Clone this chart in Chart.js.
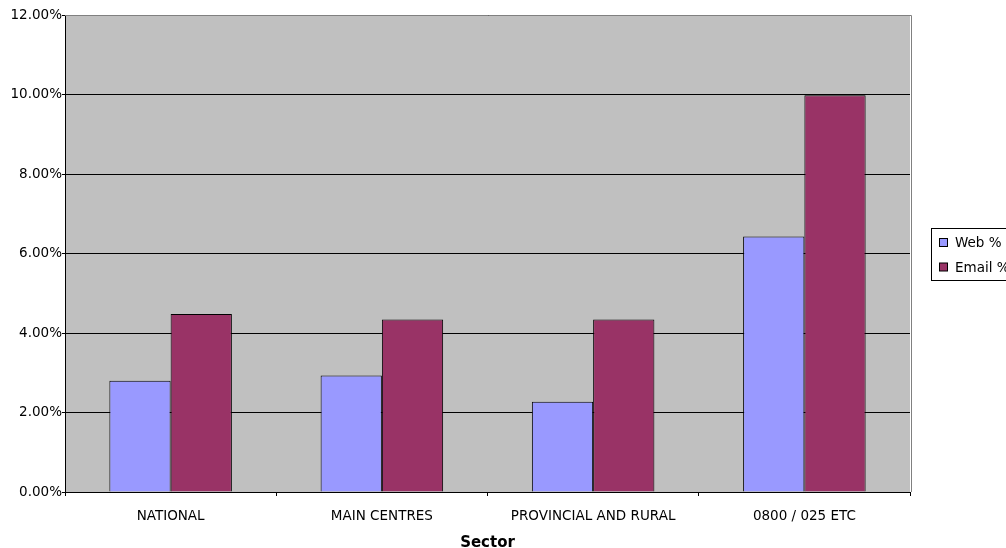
<!DOCTYPE html>
<html>
<head>
<meta charset="utf-8">
<script src="https://cdn.jsdelivr.net/npm/chart.js@4/dist/chart.umd.min.js"></script>
<style>
  html,body{margin:0;padding:0;background:#fff;overflow:hidden;}
  #wrap{width:1006px;height:548px;position:relative;}
</style>
</head>
<body>
<div id="wrap"><canvas id="c" width="1006" height="548"></canvas></div>
<script>
const categories = ["NATIONAL", "MAIN CENTRES", "PROVINCIAL AND RURAL", "0800 / 025 ETC"];
const webValues = [2.80, 2.93, 2.27, 6.43];
const emailValues = [4.48, 4.34, 4.34, 9.98];
const seriesNames = ["Web %", "Email %"];
const yTicks = [0, 2, 4, 6, 8, 10, 12];
const axisTitle = "Sector";

const FONT = "'DejaVu Sans', Verdana, sans-serif";

const plotBg = {
  id: 'plotBg',
  beforeDraw(chart) {
    const {ctx, chartArea: a} = chart;
    ctx.save();
    ctx.fillStyle = '#C0C0C0';
    ctx.fillRect(a.left, a.top, a.right - a.left, a.bottom - a.top);
    ctx.restore();
  },
  afterDatasetsDraw(chart) {
    const {ctx, chartArea: a} = chart;
    ctx.save();
    ctx.strokeStyle = '#808080';
    ctx.lineWidth = 1;
    ctx.beginPath();
    ctx.moveTo(a.left, a.top + 0.5);
    ctx.lineTo(a.right + 1.5, a.top + 0.5);
    ctx.lineTo(a.right + 1.5, a.bottom);
    ctx.stroke();
    ctx.restore();
  }
};

const boxLegend = {
  id: 'boxLegend',
  afterDraw(chart) {
    const {ctx} = chart;
    const x = 931.5, y = 228.5, w = 90, h = 52;
    ctx.save();
    ctx.fillStyle = '#fff';
    ctx.fillRect(x, y, w, h);
    ctx.strokeStyle = '#000';
    ctx.lineWidth = 1;
    ctx.strokeRect(x, y, w, h);
    ctx.font = '13.5px ' + FONT;
    ctx.textBaseline = 'middle';
    ctx.textAlign = 'left';
    chart.data.datasets.forEach((ds, i) => {
      const cy = 243 + i * 24.5;
      ctx.fillStyle = ds.backgroundColor;
      ctx.fillRect(939.5, cy - 4.5, 8, 8);
      ctx.strokeStyle = '#000';
      ctx.strokeRect(939.5, cy - 4.5, 8, 8);
      ctx.fillStyle = '#000';
      ctx.fillText(ds.label, 955, cy + 0.5);
    });
    ctx.restore();
  }
};

new Chart(document.getElementById('c'), {
  type: 'bar',
  data: {
    labels: categories,
    datasets: [
      { label: seriesNames[0], data: webValues, backgroundColor: '#9999FF', borderColor: '#000', borderWidth: 1, borderSkipped: 'bottom' },
      { label: seriesNames[1], data: emailValues, backgroundColor: '#993366', borderColor: '#000', borderWidth: 1, borderSkipped: 'bottom' }
    ]
  },
  options: {
    responsive: false,
    animation: false,
    layout: { padding: { top: 15, right: 96, bottom: 0, left: 0 } },
    plugins: { legend: { display: false }, tooltip: { enabled: false } },
    datasets: { bar: { categoryPercentage: 0.58, barPercentage: 1.0 } },
    scales: {
      x: {
        offset: true,
        grid: { display: true, drawOnChartArea: false, drawTicks: true, tickLength: 4, color: '#000', lineWidth: 1, offset: true },
        border: { display: true, color: '#000', width: 1 },
        ticks: { color: '#000', font: { family: FONT, size: 13.5 }, padding: 12, maxRotation: 0, autoSkip: false },
        title: { display: true, text: axisTitle, color: '#000', font: { family: FONT, size: 15, weight: 'bold', lineHeight: 0.6 }, padding: { top: 0, bottom: 0 } },
        afterFit(s) { s.height = 56; }
      },
      y: {
        min: 0, max: 12,
        afterBuildTicks(s) { s.ticks = yTicks.map(v => ({ value: v })); },
        grid: { color: '#000', lineWidth: 1, tickLength: 3, drawTicks: true },
        border: { display: true, color: '#000', width: 1 },
        ticks: { color: '#000', font: { family: FONT, size: 13.5 }, padding: 0, callback: v => v.toFixed(2) + '%' },
        afterFit(s) { s.width = 65; }
      }
    }
  },
  plugins: [plotBg, boxLegend]
});
</script>
</body>
</html>
